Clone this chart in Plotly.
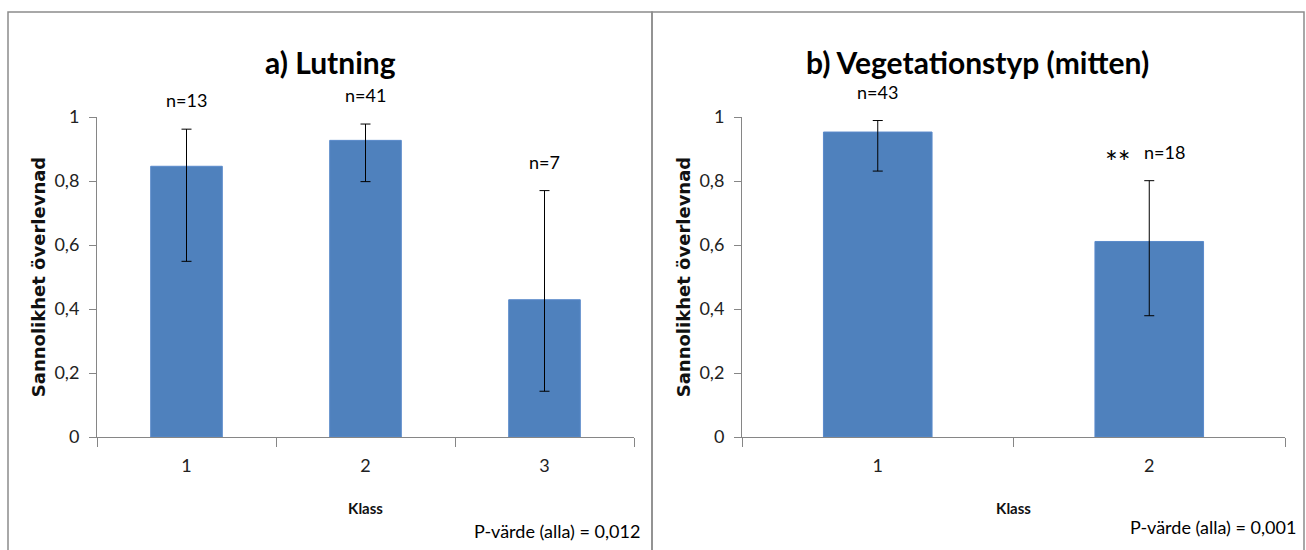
import plotly.graph_objects as go

# Panel a) Lutning
klass_a = ["1", "2", "3"]
overlevnad_a = [0.846, 0.927, 0.429]
ovre_a = [0.962, 0.978, 0.770]
nedre_a = [0.549, 0.798, 0.143]
n_a = ["n=13", "n=41", "n=7"]

# Panel b) Vegetationstyp (mitten)
klass_b = ["1", "2"]
overlevnad_b = [0.953, 0.611]
ovre_b = [0.989, 0.801]
nedre_b = [0.831, 0.379]
n_b = ["n=43", "n=18"]
signif_b = ["", "**"]

yticks = [0, 0.2, 0.4, 0.6, 0.8, 1]
ytick_text = ["0", "0,2", "0,4", "0,6", "0,8", "1"]

BAR = "#4F81BD"
AXIS = "#868686"
FONT = "Lato, 'Open Sans', sans-serif"

W, H = 1306, 550


def px_x(x):
    return x / W


def px_y(y):
    return 1 - y / H


fig = go.Figure()


def add_panel(cats, vals, hi, lo, xa, ya):
    fig.add_trace(go.Bar(
        x=cats, y=vals, xaxis=xa, yaxis=ya,
        marker=dict(color=BAR, line=dict(color="#5A8ACB", width=1)),
        error_y=dict(
            type="data", symmetric=False,
            array=[h - v for h, v in zip(hi, vals)],
            arrayminus=[v - l for v, l in zip(vals, lo)],
            color="black", thickness=1, width=5,
        ),
        showlegend=False, hoverinfo="skip",
    ))


add_panel(klass_a, overlevnad_a, ovre_a, nedre_a, "x", "y")
add_panel(klass_b, overlevnad_b, ovre_b, nedre_b, "x2", "y2")

ydom = [px_y(437), px_y(117)]
common_x = dict(
    type="category", showline=True, linecolor=AXIS, linewidth=1,
    ticks="outside", tickson="boundaries", ticklen=9, tickcolor=AXIS,
    ticklabelstandoff=12,
    tickfont=dict(family=FONT, size=18, color="#222"),
    showgrid=False, zeroline=False, fixedrange=True, automargin=False,
    title=dict(text="<b>Klass</b>", font=dict(family=FONT, size=15, color="#111"), standoff=28),
)
common_y = dict(
    range=[0, 1], tickvals=yticks, ticktext=ytick_text,
    showline=True, linecolor=AXIS, linewidth=1,
    ticks="outside", ticklen=7, tickcolor=AXIS, ticklabelstandoff=6,
    tickfont=dict(family=FONT, size=18, color="#222"),
    showgrid=False, zeroline=False, fixedrange=True, automargin=False,
    title=dict(text="<b>Sannolikhet överlevnad</b>",
               font=dict(family="DejaVu Sans", size=18, color="#111"), standoff=4),
)

fig.update_layout(
    width=W, height=H,
    margin=dict(l=0, r=0, t=0, b=0),
    paper_bgcolor="white", plot_bgcolor="white",
    bargap=0.6,
    xaxis=dict(domain=[px_x(97), px_x(634)], anchor="y",
               range=[-0.5, len(klass_a) - 0.5], **common_x),
    yaxis=dict(domain=ydom, anchor="x", **common_y),
    xaxis2=dict(domain=[px_x(742), px_x(1285)], anchor="y2",
                range=[-0.5, len(klass_b) - 0.5], **common_x),
    yaxis2=dict(domain=ydom, anchor="x2", **common_y),
)

# panel frames
for x0, x1 in [(8, 652), (652, 1304)]:
    fig.add_shape(type="rect", xref="paper", yref="paper",
                  x0=px_x(x0), x1=px_x(x1), y0=-0.05, y1=px_y(12),
                  line=dict(color="#8C8C8C", width=1.5), fillcolor="rgba(0,0,0,0)")

# titles
for text, cx in [("a) Lutning", 330), ("b) Vegetationstyp (mitten)", 977)]:
    fig.add_annotation(text=f"<b>{text}</b>", xref="paper", yref="paper",
                       x=px_x(cx), y=px_y(62), showarrow=False,
                       xanchor="center", yanchor="middle",
                       font=dict(family=FONT, size=30, color="black"))

# sample-size labels above the error bars (category index as x position)
for hi, labels, marks, xa, ya in [(ovre_a, n_a, [""] * len(n_a), "x", "y"),
                                   (ovre_b, n_b, signif_b, "x2", "y2")]:
    for i, (h, lab, mark) in enumerate(zip(hi, labels, marks)):
        shift_x = 15 if mark else 0
        fig.add_annotation(text=lab, x=i, y=h, xref=xa, yref=ya,
                           showarrow=False, yshift=29, xshift=shift_x,
                           xanchor="center", yanchor="middle",
                           font=dict(family=FONT, size=18, color="black"))
        if mark:
            fig.add_annotation(text=mark, x=i, y=h, xref=xa, yref=ya,
                               showarrow=False, yshift=20, xshift=-31,
                               xanchor="center", yanchor="middle",
                               font=dict(family=FONT, size=30, color="black"))

# p-values
for text, rx, cy in [("P-värde (alla) = 0,012", 642, 531), ("P-värde (alla) = 0,001", 1298, 527)]:
    fig.add_annotation(text=text, xref="paper", yref="paper",
                       x=px_x(rx), y=px_y(cy), showarrow=False,
                       xanchor="right", yanchor="middle",
                       font=dict(family=FONT, size=18, color="black"))

fig.write_html("out.html")
